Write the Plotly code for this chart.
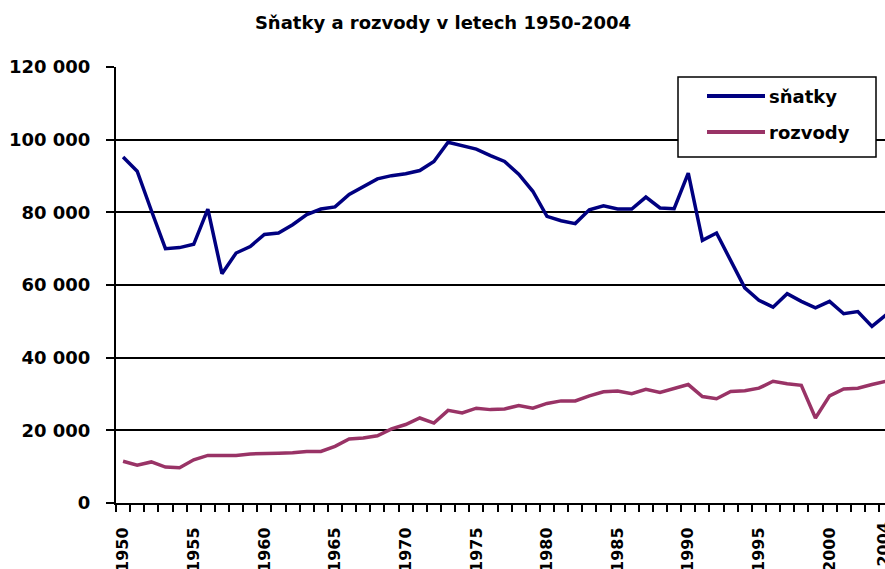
import plotly.graph_objects as go

# ---- data ----
years = list(range(1950, 2005))
snatky = [
    95200, 91300, 80500, 70000, 70300, 71200, 80900, 63100, 68800, 70600,
    73900, 74300, 76600, 79400, 80900, 81500, 84900, 87000, 89200, 90100,
    90600, 91500, 94000, 99300, 98300, 97400, 95600, 94000, 90500, 85800,
    78900, 77700, 76900, 80700, 81800, 80900, 80900, 84200, 81200, 81000,
    90800, 72300, 74300, 66500, 59200, 55800, 53900, 57600, 55500, 53700,
    55500, 52100, 52700, 48600, 51800,
]
rozvody = [
    11500, 10400, 11300, 9900, 9700, 11900, 13100, 13100, 13100, 13500,
    13500, 13700, 13800, 14200, 14200, 15600, 17600, 17900, 18500, 20400,
    21600, 23400, 22000, 25500, 24800, 26100, 25700, 25900, 26800, 26100,
    27400, 28100, 28100, 29500, 30600, 30800, 30100, 31300, 30400, 31400,
    32600, 29300, 28700, 30700, 30900, 31600, 33500, 32800, 32400, 23400,
    29500, 31400, 31600, 32600, 33500,
]
series_names = ["sňatky", "rozvody"]
series_colors = ["#000080", "#993366"]
y_tickvals = [0, 20000, 40000, 60000, 80000, 100000, 120000]
y_ticktext = ["0", "20 000", "40 000", "60 000", "80 000", "100 000", "120 000"]
x_tickvals = [1950, 1955, 1960, 1965, 1970, 1975, 1980, 1985, 1990, 1995, 2000, 2004]
x_ticktext = [str(v) for v in x_tickvals]
title_text = "Sňatky a rozvody v letech 1950-2004"

# ---- layout geometry (window pixels; body margin removed in the page) ----
W, H = 885, 569
L, R, T, B = 116, 885, 67, 503
STEP = 14.13  # pixels per year in the reference
X_END = 1949.5 + (R - L) / STEP
FONT = "DejaVu Sans"


def px(x):
    return (x - L) / (R - L)


def py(y):
    return (B - y) / (B - T)


fig = go.Figure()
for name, vals, col in zip(series_names, [snatky, rozvody], series_colors):
    fig.add_trace(go.Scatter(
        x=years, y=vals, mode="lines", name=name,
        line=dict(color=col, width=3.5), showlegend=False,
        hoverinfo="x+y",
    ))

tick_font = dict(family=FONT, size=18, color="black", weight="bold")
xtick_font = dict(family=FONT, size=16, color="black", weight="bold")

fig.update_layout(
    width=W, height=H,
    margin=dict(l=L, r=W - R, t=T, b=H - B, pad=0, autoexpand=False),
    paper_bgcolor="white", plot_bgcolor="white",
    font=tick_font,
    title=dict(text=title_text, x=443 / W, xanchor="center",
               y=1 - 23 / H, yanchor="middle", automargin=False,
               font=tick_font),
)

fig.update_xaxes(
    type="linear", range=[1949.5, X_END], automargin=False,
    tickmode="array", tickvals=x_tickvals, ticktext=x_ticktext,
    tickangle=-90, ticks="", ticklabelstandoff=16,
    ticklabeloverflow="allow",
    showline=True, linecolor="black", linewidth=2,
    showgrid=False, zeroline=False,
    tickfont=xtick_font,
    minor=dict(tick0=1949.5, dtick=1, ticks="outside", ticklen=7,
               tickwidth=1.5, tickcolor="black", showgrid=False),
)
fig.update_yaxes(
    range=[0, 120000], automargin=False,
    tickmode="array", tickvals=y_tickvals, ticktext=y_ticktext,
    ticks="outside", ticklen=8, tickwidth=1.5, tickcolor="black",
    ticklabelstandoff=12,
    showline=True, linecolor="black", linewidth=2,
    showgrid=True, gridcolor="black", gridwidth=1.5, zeroline=False,
    tickfont=tick_font,
)

# last category label sits past the visible edge of the axis; draw it as text
last_year = x_tickvals[-1]
if last_year > X_END:
    last_px = L + (last_year - 1949.5) * STEP - 3
    fig.add_annotation(xref="paper", yref="paper", x=px(last_px), y=py(520),
                       text=str(last_year), textangle=-90, showarrow=False,
                       xanchor="center", yanchor="top", font=xtick_font)

# ---- legend drawn manually (box, line samples, labels) ----
fig.add_shape(type="rect", xref="paper", yref="paper",
              x0=px(678), x1=px(876), y0=py(157), y1=py(77),
              line=dict(color="black", width=1.5), fillcolor="white",
              layer="above")
for i, (name, col) in enumerate(zip(series_names, series_colors)):
    yy = [96, 132][i]
    fig.add_shape(type="line", xref="paper", yref="paper",
                  x0=px(707), x1=px(765), y0=py(yy), y1=py(yy),
                  line=dict(color=col, width=4), layer="above")
    fig.add_annotation(xref="paper", yref="paper", x=px(767), y=py(yy),
                       text=name, showarrow=False, xanchor="left",
                       yanchor="middle", font=tick_font)

fig.write_html(
    "out.html",
    config={"displayModeBar": False},
    post_script="document.body.style.margin='0';"
                "document.body.style.overflow='hidden';",
)
